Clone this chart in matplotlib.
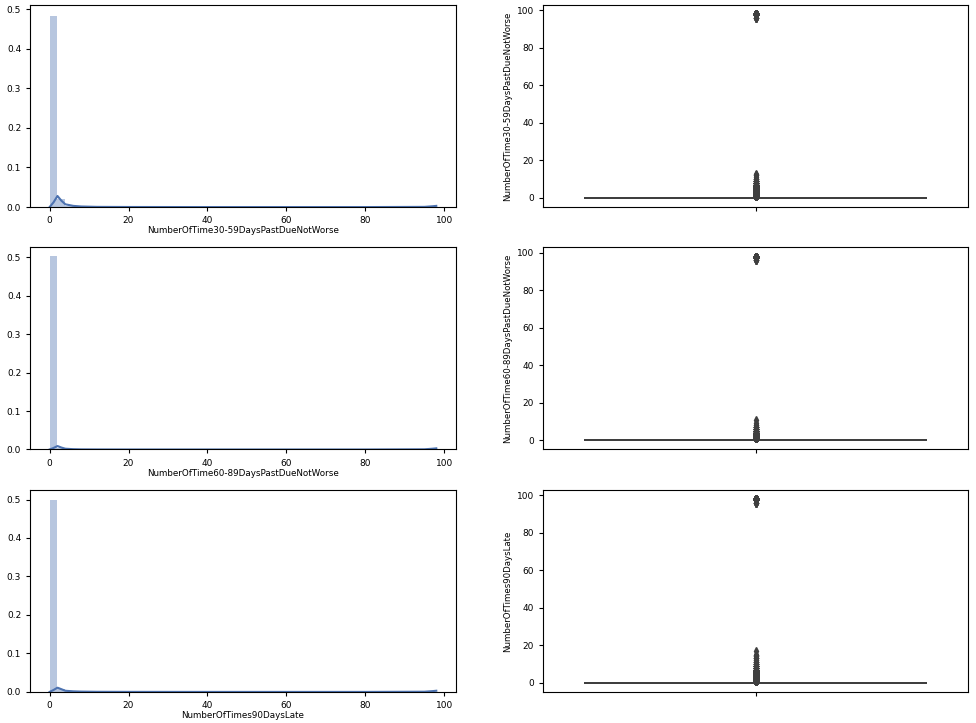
import numpy as np
import matplotlib.pyplot as plt

plt.rcParams['font.family'] = ['DejaVu Sans']
plt.rcParams['font.size'] = 6.5

names = ['NumberOfTime30-59DaysPastDueNotWorse',
         'NumberOfTime60-89DaysPastDueNotWorse',
         'NumberOfTimes90DaysLate']

vals_3059 = [0, 1, 2, 3, 4, 5, 6, 7, 8, 9, 10, 11, 12, 13, 96, 98]
cnts_3059 = [126018, 16033, 4598, 1754, 747, 342, 140, 54, 25, 12, 4, 1, 2, 1, 5, 264]
vals_6089 = [0, 1, 2, 3, 4, 5, 6, 7, 8, 9, 11, 96, 98]
cnts_6089 = [142396, 5731, 1118, 318, 105, 34, 16, 9, 2, 1, 1, 5, 264]
vals_90 = [0, 1, 2, 3, 4, 5, 6, 7, 8, 9, 10, 11, 12, 13, 14, 15, 17, 96, 98]
cnts_90 = [141662, 5243, 1555, 667, 291, 131, 80, 38, 21, 19, 8, 5, 2, 4, 2, 2, 1, 5, 264]

# kde curves as they appear in the picture
kde_x = [0, 1, 2, 3, 4, 6, 8, 12, 20, 40, 60, 80, 95, 97, 98]
kde_y_3059 = [0.0, 0.012, 0.028, 0.016, 0.007, 0.003, 0.0015, 0.0005, 0.0002, 0.0, 0.0, 0.0, 0.0005, 0.002, 0.003]
kde_y_6089 = [0.0, 0.004, 0.009, 0.005, 0.002, 0.0008, 0.0003, 0.0001, 0.0, 0.0, 0.0, 0.0, 0.0005, 0.002, 0.003]
kde_y_90 = [0.0, 0.005, 0.011, 0.007, 0.003, 0.0015, 0.0008, 0.0003, 0.0001, 0.0, 0.0, 0.0, 0.0005, 0.002, 0.003]

series = [(vals_3059, cnts_3059, kde_y_3059),
          (vals_6089, cnts_6089, kde_y_6089),
          (vals_90, cnts_90, kde_y_90)]

fig, axes = plt.subplots(3, 2, figsize=(9.76, 7.23), dpi=100)
fig.subplots_adjust(left=0.031, right=0.992, top=0.993, bottom=0.043, wspace=0.205, hspace=0.2)

blue = '#4c72b0'
for i, (vals, cnts, ky) in enumerate(series):
    data = np.repeat(vals, cnts)
    ax = axes[i, 0]
    ax.hist(data, bins=50, density=True, color=blue, alpha=0.4)
    ax.plot(kde_x, ky, color=blue, lw=1.5)
    ax.set_xlabel(names[i], fontsize=6.3, labelpad=1)
    ax.set_xticks([0, 20, 40, 60, 80, 100])
    ax.set_yticks([0, 0.1, 0.2, 0.3, 0.4, 0.5])
    ax.set_ylim(0, 0.51 if i == 0 else 0.525)

    ax = axes[i, 1]
    ax.boxplot(data, positions=[0], widths=0.8, showcaps=True,
               boxprops=dict(color='#3f3f3f', lw=1.3),
               medianprops=dict(color='#3f3f3f', lw=1.3),
               whiskerprops=dict(color='#3f3f3f', lw=1.3),
               capprops=dict(color='#3f3f3f', lw=1.3),
               flierprops=dict(marker='d', markersize=4, markerfacecolor='#3f3f3f',
                               markeredgecolor='#3f3f3f'))
    ax.set_xlim(-0.5, 0.5)
    ax.set_xticks([0])
    ax.set_xticklabels([''])
    ax.set_ylabel(names[i], fontsize=6.2, labelpad=3)
    ax.set_yticks([0, 20, 40, 60, 80, 100])

for ax in axes.flat:
    ax.tick_params(direction='out', length=3, width=0.8)

fig.savefig('out.png', dpi=100)
